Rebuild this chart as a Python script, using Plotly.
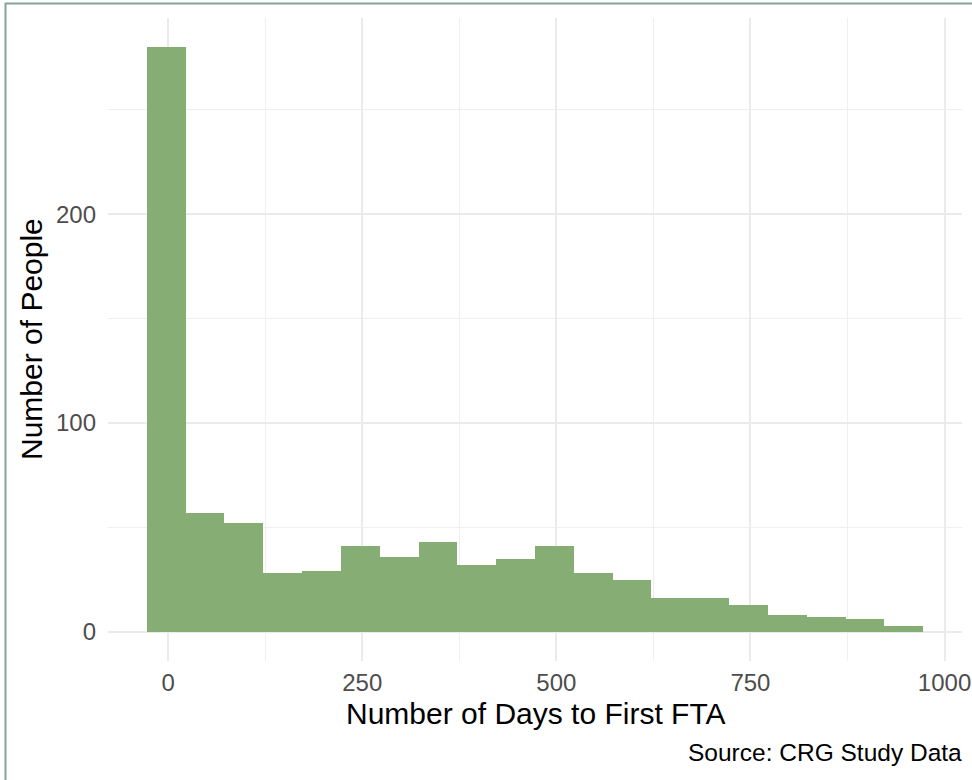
import plotly.graph_objects as go

# Histogram data (bin width 50 days)
bin_centers = [-2.5, 47.5, 97.5, 147.5, 197.5, 247.5, 297.5, 347.5, 397.5, 447.5,
               497.5, 547.5, 597.5, 647.5, 697.5, 747.5, 797.5, 847.5, 897.5, 947.5]
counts = [280, 57, 52, 28, 29, 41, 36, 43, 32, 35,
          41, 28, 25, 16, 16, 13, 8, 7, 6, 3]
bin_width = 50

x_ticks = [0, 250, 500, 750, 1000]
y_ticks = [0, 100, 200]

x_title = "Number of Days to First FTA"
y_title = "Number of People"
caption = "Source: CRG Study Data"

W, H = 972, 780
ML, MR, MT, MB = 108, 10, 18, 119
PW, PH = W - ML - MR, H - MT - MB


def px_x(p):
    return (p - ML) / PW


def px_y(p):
    return (H - MB - p) / PH


FONT = "Liberation Sans, Arial, sans-serif"
BAR = "#86ae74"
BORDER = "#83a39a"

fig = go.Figure()
fig.add_trace(go.Bar(
    x=bin_centers, y=counts, width=[bin_width] * len(counts),
    marker=dict(color=BAR, line=dict(width=0)),
    hoverinfo="x+y", showlegend=False,
))

fig.update_layout(
    width=W, height=H, autosize=False,
    margin=dict(l=ML, r=MR, t=MT, b=MB, pad=0, autoexpand=False),
    paper_bgcolor="white", plot_bgcolor="white",
    bargap=0,
    font=dict(family=FONT, color="#000000"),
    xaxis=dict(
        range=[-77.5, 1022.5], tickvals=x_ticks, ticktext=[str(v) for v in x_ticks],
        automargin=False,
        showgrid=True, gridcolor="#ebebeb", gridwidth=1.6,
        minor=dict(dtick=125, tick0=0, showgrid=True, gridcolor="#efefef", gridwidth=1.2),
        zeroline=False, showline=False, ticks="",
        tickfont=dict(family=FONT, size=24, color="#4d4d4d"),
        ticklabelstandoff=5,
    ),
    yaxis=dict(
        range=[-14, 294], tickvals=y_ticks, ticktext=[str(v) for v in y_ticks],
        automargin=False,
        showgrid=True, gridcolor="#ebebeb", gridwidth=1.6,
        minor=dict(dtick=50, tick0=0, showgrid=True, gridcolor="#efefef", gridwidth=1.2),
        zeroline=False, showline=False, ticks="",
        tickfont=dict(family=FONT, size=24, color="#4d4d4d"),
        ticklabelstandoff=11,
    ),
    annotations=[
        dict(text=x_title, x=px_x(536), y=px_y(713), xref="paper", yref="paper",
             xanchor="center", yanchor="middle", showarrow=False,
             font=dict(family=FONT, size=30, color="#000000")),
        dict(text=y_title, x=px_x(32), y=px_y(339), xref="paper", yref="paper",
             xanchor="center", yanchor="middle", showarrow=False, textangle=-90,
             font=dict(family=FONT, size=30, color="#000000")),
        dict(text=caption, x=px_x(964), y=px_y(752), xref="paper", yref="paper",
             xanchor="right", yanchor="middle", showarrow=False,
             font=dict(family=FONT, size=24.5, color="#000000")),
    ],
    shapes=[
        dict(type="line", xref="paper", yref="paper",
             x0=px_x(5), x1=px_x(972), y0=px_y(3.5), y1=px_y(3.5),
             line=dict(color=BORDER, width=2)),
        dict(type="line", xref="paper", yref="paper",
             x0=px_x(5.5), x1=px_x(5.5), y0=px_y(3), y1=px_y(780),
             line=dict(color=BORDER, width=2)),
    ],
)

fig.write_html(
    "out.html",
    config={"displayModeBar": False, "responsive": False},
    post_script=(
        "document.body.style.margin='0';"
        "document.body.style.overflow='hidden';"
        "var gd=document.getElementById('{plot_id}');"
        "Plotly.relayout(gd,{width:972,height:780});"
    ),
)
